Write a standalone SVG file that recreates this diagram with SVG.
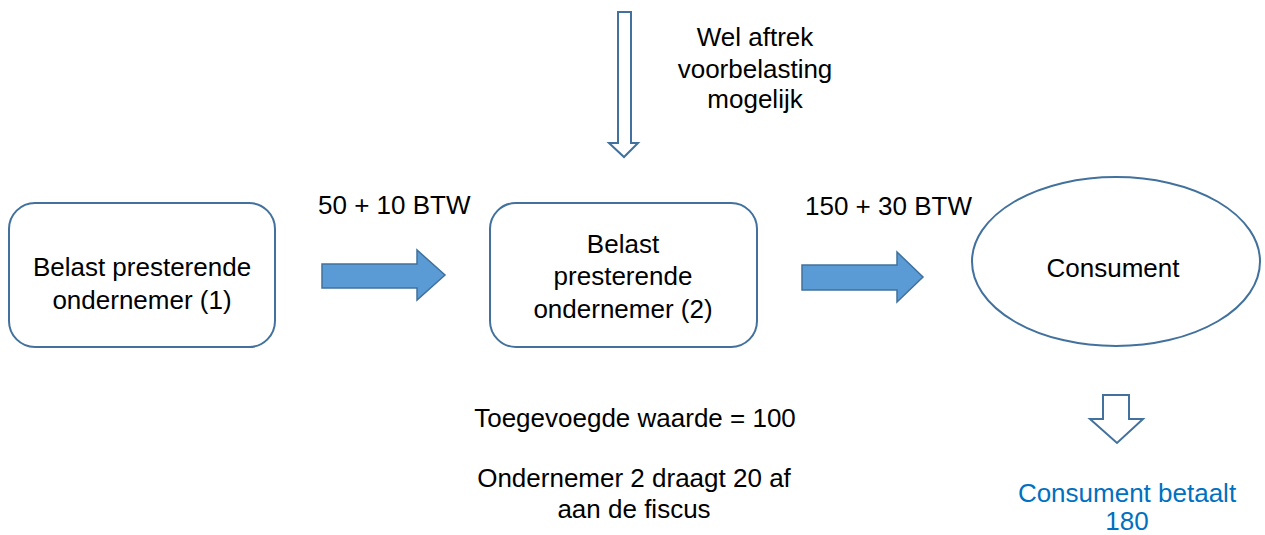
<svg xmlns="http://www.w3.org/2000/svg" width="1265" height="535" viewBox="0 0 1265 535">
<style>
text{font-family:"Liberation Sans",Arial,Helvetica,sans-serif;font-size:26px;fill:#000;text-anchor:middle}
.node{fill:#fff;stroke:#41719C;stroke-width:2}
.fat{fill:#5B9BD5;stroke:#41719C;stroke-width:1.5}
.hollow{fill:#fff;stroke:#41719C;stroke-width:2}
.blue{fill:#0070C0}
.left{text-anchor:start}
</style>
<rect width="1265" height="535" fill="#fff"/>
<g id="node1">
<rect class="node" x="9" y="203" width="266" height="144" rx="26"/>
<text x="142" y="276">Belast presterende</text>
<text x="142" y="309">ondernemer (1)</text>
</g>
<g id="node2">
<rect class="node" x="490" y="203" width="267" height="144" rx="26"/>
<text x="623" y="253">Belast</text>
<text x="623" y="285">presterende</text>
<text x="623" y="318">ondernemer (2)</text>
</g>
<g id="consument">
<ellipse class="node" cx="1116" cy="261.5" rx="144" ry="84.5"/>
<text x="1113" y="277">Consument</text>
</g>
<g id="connectors">
<path class="fat" d="M322,264 H417 V250 L445,275 L417,300 V288 H322 Z"/>
<path class="fat" d="M802,265 H897 V252 L923,277 L897,302 V290 H802 Z"/>
<path class="hollow" d="M618,12 H631 V143 H638 L624,157 L609,143 H618 Z"/>
<path class="hollow" d="M1103,395 H1129 V419 H1143 L1117,443 L1090,419 H1103 Z"/>
</g>
<g id="labels">
<text class="left" x="318" y="214">50 + 10 BTW</text>
<text class="left" x="805" y="215">150 + 30 BTW</text>
<text x="755" y="46">Wel aftrek</text>
<text x="755" y="78">voorbelasting</text>
<text x="755" y="108">mogelijk</text>
<text x="635" y="427">Toegevoegde waarde = 100</text>
<text x="634" y="487">Ondernemer 2 draagt 20 af</text>
<text x="634" y="518">aan de fiscus</text>
<text class="blue" x="1127" y="502">Consument betaalt</text>
<text class="blue" x="1127" y="530">180</text>
</g>
</svg>
